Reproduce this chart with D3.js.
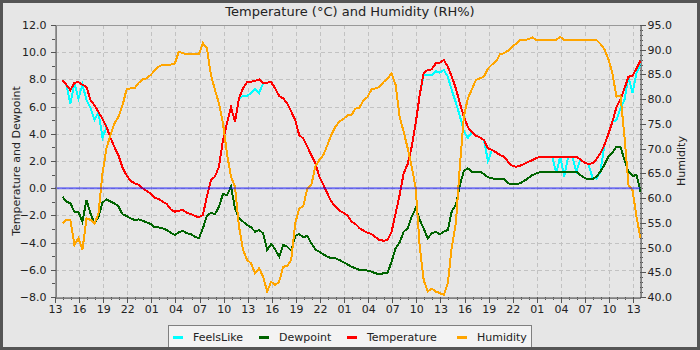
<!DOCTYPE html>
<html>
<head>
<meta charset="utf-8">
<script src="https://cdn.jsdelivr.net/npm/d3@7"></script>
<style>
  body { margin: 0; background: #e6e6e6; }
  svg { display: block; font-family: "DejaVu Sans", sans-serif; }
</style>
</head>
<body>
<svg id="chart" width="700" height="350"></svg>
<script>
// Readings: one sample every 30 minutes starting 13:55 on day one
const firstReading = new Date(2024, 0, 10, 13, 55);
const readingStepMinutes = 30;
const axisStart = new Date(2024, 0, 10, 13, 0);
const axisSpanMinutes = 4371;

const seriesNames = ["FeelsLike", "Dewpoint", "Temperature", "Humidity"];

const feelsLike = [
  7.95, 7.6, 6.2, 7.75, 6.6, 7.6, 6.5, 5.9, 5.0, 5.6,
  3.7, 4.5, 3.7, 3.0, 2.4, 1.5, 0.95, 0.55, 0.35, 0.25,
  0.0, -0.2, -0.4, -0.7, -0.8, -0.99, -1.16, -1.55, -1.73, -1.65,
  -1.6, -1.8, -1.9, -2.04, -2.14, -1.97, -0.62, 0.6, 0.85, 1.58,
  3.54, 4.77, 5.95, 4.9, 6.6, 6.8, 6.8, 7.0, 7.3, 7.0,
  7.71, 7.76, 7.8, 7.34, 6.78, 6.6, 6.24, 5.63, 5.0, 3.9,
  3.66, 3.05, 2.44, 1.83, 0.85, 0.24, -0.38, -0.99, -1.36, -1.65,
  -1.8, -2.0, -2.46, -2.63, -2.93, -3.12, -3.27, -3.37, -3.61, -3.81,
  -3.86, -3.81, -3.2, -1.85, -0.5, 1.09, 1.78, 3.05, 4.77, 6.85,
  8.3, 8.3, 8.3, 8.6, 8.5, 8.7, 8.2, 7.2, 6.3, 5.3,
  4.2, 3.7, 4.11, 3.86, 3.74, 3.54, 2.0, 2.81, 2.64, 2.44,
  2.32, 1.95, 1.66, 1.58, 1.66, 1.78, 1.93, 2.06, 2.2, 2.32,
  2.32, 2.32, 2.32, 1.1, 2.32, 0.85, 2.32, 2.32, 1.2, 2.12,
  1.9, 1.78, 0.8, 0.7, 1.2, 3.18, 3.99, 4.89, 5.0, 5.9,
  6.5, 8.2, 7.0, 8.5, 9.1
];

const dewpoint = [
  -0.62, -0.99, -1.11, -1.73, -1.73, -2.46, -0.87, -1.85, -2.58, -2.09,
  -1.06, -0.82, -0.99, -1.11, -1.36, -1.92, -2.04, -2.22, -2.34, -2.29,
  -2.39, -2.51, -2.63, -2.88, -2.88, -2.95, -3.07, -3.27, -3.44, -3.25,
  -3.12, -3.32, -3.37, -3.56, -3.69, -2.95, -2.04, -1.8, -1.92, -1.36,
  -0.43, -0.5, 0.11, -1.48, -2.22, -2.46, -2.7, -2.88, -3.2, -3.07,
  -3.32, -4.54, -4.1, -4.5, -5.03, -4.18, -4.3, -4.59, -3.51, -3.37,
  -3.61, -3.51, -4.05, -4.5, -4.67, -4.86, -5.03, -5.16, -5.16, -5.28,
  -5.45, -5.6, -5.77, -5.89, -6.01, -6.01, -6.06, -6.14, -6.26, -6.31,
  -6.26, -6.21, -5.4, -4.42, -4.0, -3.2, -2.95, -2.09, -1.48, -2.34,
  -2.95, -3.69, -3.32, -3.2, -3.4, -3.2, -3.07, -1.68, -1.24, 0.24,
  1.26, 1.46, 1.22, 1.22, 1.22, 1.04, 0.8, 0.73, 0.68, 0.68,
  0.65, 0.36, 0.28, 0.31, 0.36, 0.53, 0.73, 0.95, 1.09, 1.19,
  1.22, 1.22, 1.22, 1.22, 1.22, 1.22, 1.22, 1.22, 1.22, 0.97,
  0.77, 0.65, 0.65, 0.85, 1.22, 1.71, 2.32, 2.61, 3.05, 3.05,
  2.07, 1.22, 0.9, 0.97, -0.25
];

const temperature = [
  7.95, 7.6, 7.2, 7.75, 7.8, 7.6, 7.45, 6.5, 6.1, 5.6,
  5.1, 4.5, 3.7, 3.0, 2.4, 1.5, 0.95, 0.55, 0.35, 0.25,
  0.0, -0.2, -0.4, -0.7, -0.8, -0.99, -1.16, -1.55, -1.73, -1.65,
  -1.6, -1.8, -1.9, -2.04, -2.14, -1.97, -0.62, 0.6, 0.85, 1.58,
  3.54, 4.77, 5.95, 4.9, 6.6, 7.34, 7.8, 7.83, 7.9, 8.0,
  7.71, 7.76, 7.8, 7.34, 6.78, 6.6, 6.24, 5.63, 5.0, 3.9,
  3.66, 3.05, 2.44, 1.83, 0.85, 0.24, -0.38, -0.99, -1.36, -1.65,
  -1.8, -2.0, -2.46, -2.63, -2.93, -3.12, -3.27, -3.37, -3.61, -3.81,
  -3.86, -3.81, -3.2, -1.85, -0.5, 1.09, 1.78, 3.05, 4.77, 6.85,
  8.5, 8.69, 8.74, 9.18, 9.23, 9.43, 8.94, 8.2, 7.34, 6.24,
  5.26, 4.48, 4.11, 3.86, 3.74, 3.54, 2.93, 2.81, 2.64, 2.44,
  2.32, 1.95, 1.66, 1.58, 1.66, 1.78, 1.93, 2.06, 2.2, 2.32,
  2.32, 2.32, 2.32, 2.32, 2.32, 2.32, 2.32, 2.32, 2.32, 2.12,
  1.9, 1.78, 1.83, 2.12, 2.56, 3.18, 3.99, 4.89, 5.95, 6.53,
  7.34, 8.2, 8.25, 8.81, 9.38
];

const humidity = [
  54.9, 55.6, 55.6, 50.5, 51.9, 49.5, 55.9, 55.6, 54.8, 56.9,
  65.0, 70.1, 72.8, 75.1, 76.5, 78.8, 82.0, 82.2, 82.2, 83.3,
  84.0, 84.2, 84.9, 85.8, 86.6, 87.0, 87.0, 87.0, 87.2, 89.6,
  89.3, 89.1, 89.1, 89.1, 89.1, 91.3, 90.3, 84.9, 81.9, 79.2,
  75.1, 69.0, 64.3, 62.3, 54.2, 49.5, 47.5, 46.8, 44.8, 45.8,
  44.1, 41.1, 43.1, 42.4, 43.1, 46.1, 46.3, 47.5, 54.9, 57.9,
  58.3, 62.0, 62.6, 66.4, 67.7, 68.7, 70.7, 72.8, 74.4, 75.5,
  76.0, 76.7, 76.8, 78.1, 78.3, 79.8, 80.4, 82.0, 82.2, 82.5,
  83.5, 84.2, 85.2, 82.9, 76.5, 73.4, 70.1, 66.4, 62.0, 50.2,
  43.4, 41.1, 41.7, 41.1, 40.8, 40.4, 42.8, 50.2, 54.9, 66.4,
  76.5, 80.2, 82.0, 83.9, 84.2, 84.6, 86.2, 87.0, 87.6, 89.1,
  89.3, 89.8, 90.6, 91.2, 92.0, 92.0, 92.1, 92.5, 92.0, 92.0,
  92.0, 92.0, 92.0, 92.0, 92.6, 92.0, 92.0, 92.0, 92.0, 92.0,
  92.0, 92.0, 92.0, 92.0, 91.2, 90.1, 88.1, 85.2, 80.5, 80.8,
  72.4, 62.6, 61.6, 56.2, 51.9
];

const temperatureTicks = [-8, -6, -4, -2, 0, 2, 4, 6, 8, 10, 12];
const humidityTicks = [40, 45, 50, 55, 60, 65, 70, 75, 80, 85, 90, 95];

// ---- drawing ----
const W = 700, H = 350;
const plot = { left: 55, right: 640, top: 25, bottom: 297 };
const svg = d3.select("#chart");

svg.append("rect").attr("x", 0).attr("y", 0).attr("width", W).attr("height", H).attr("fill", "#e6e6e6");

const axisEnd = d3.timeMinute.offset(axisStart, axisSpanMinutes);
const x = d3.scaleTime().domain([axisStart, axisEnd]).range([plot.left, plot.right]);
const yT = d3.scaleLinear().domain([-8, 12]).range([plot.bottom, plot.top]);
const yH = d3.scaleLinear().domain([40, 95]).range([plot.bottom, plot.top]);

const hours = d3.timeHour.range(axisStart, d3.timeMinute.offset(axisEnd, 1));
const majorHours = hours.filter((d, i) => i % 3 === 0);

// grid
const grid = svg.append("g").attr("stroke", "#c2c2c2").attr("stroke-width", 1)
  .attr("stroke-dasharray", "4,3").attr("shape-rendering", "crispEdges");
grid.selectAll("line.v").data(majorHours.slice(1)).join("line")
  .attr("x1", d => Math.round(x(d)) + 0.5).attr("x2", d => Math.round(x(d)) + 0.5)
  .attr("y1", plot.top).attr("y2", plot.bottom);
grid.selectAll("line.h").data(temperatureTicks.slice(1, -1)).join("line")
  .attr("x1", plot.left).attr("x2", plot.right)
  .attr("y1", d => Math.round(yT(d)) + 0.5).attr("y2", d => Math.round(yT(d)) + 0.5);

// plot outline
svg.append("rect").attr("x", plot.left + 0.5).attr("y", plot.top + 0.5)
  .attr("width", plot.right - plot.left).attr("height", plot.bottom - plot.top)
  .attr("fill", "none").attr("stroke", "#999").attr("shape-rendering", "crispEdges");

// series
const times = temperature.map((_, i) => d3.timeMinute.offset(firstReading, i * readingStepMinutes));
svg.append("clipPath").attr("id", "plotClip").append("rect")
  .attr("x", plot.left).attr("y", plot.top)
  .attr("width", plot.right - plot.left + 1).attr("height", plot.bottom - plot.top);

const series = [
  { name: seriesNames[0], values: feelsLike, scale: yT, color: "#00ffff" },
  { name: seriesNames[1], values: dewpoint, scale: yT, color: "#006400" },
  { name: seriesNames[2], values: temperature, scale: yT, color: "#ff0000" },
  { name: seriesNames[3], values: humidity, scale: yH, color: "#ffa500" }
];

const lines = svg.append("g").attr("clip-path", "url(#plotClip)");
series.forEach(s => {
  const line = d3.line().x((d, i) => x(times[i])).y(d => s.scale(d));
  lines.append("path").datum(s.values).attr("d", line)
    .attr("fill", "none").attr("stroke", s.color).attr("stroke-width", 2)
    .attr("stroke-linejoin", "miter").attr("shape-rendering", "crispEdges");
});

// zero marker
svg.append("line").attr("x1", plot.left).attr("x2", plot.right)
  .attr("y1", yT(0)).attr("y2", yT(0))
  .attr("stroke", "rgba(0,0,255,0.5)").attr("stroke-width", 2);

// axes
const textColor = "#222";
function styleAxis(g) {
  g.selectAll(".domain").attr("stroke", "#808080").attr("shape-rendering", "crispEdges");
  g.selectAll(".tick line").attr("stroke", "#555").attr("shape-rendering", "crispEdges");
  g.selectAll(".tick text").attr("fill", textColor).style("font-size", "11px")
    .style("font-family", "'DejaVu Sans', sans-serif");
}

// minor ticks
const minor = svg.append("g").attr("stroke", "#555").attr("shape-rendering", "crispEdges");
minor.selectAll("line.mx").data(hours).join("line")
  .attr("x1", d => Math.round(x(d)) + 0.5).attr("x2", d => Math.round(x(d)) + 0.5)
  .attr("y1", plot.bottom).attr("y2", plot.bottom + 3);
minor.selectAll("line.my").data(d3.range(-8, 12.5, 1)).join("line")
  .attr("x1", plot.left - 3).attr("x2", plot.left)
  .attr("y1", d => Math.round(yT(d)) + 0.5).attr("y2", d => Math.round(yT(d)) + 0.5);
minor.selectAll("line.mh").data(d3.range(40, 95.5, 1)).join("line")
  .attr("x1", plot.right).attr("x2", plot.right + 3)
  .attr("y1", d => Math.round(yH(d)) + 0.5).attr("y2", d => Math.round(yH(d)) + 0.5);

const xAxis = svg.append("g").attr("transform", `translate(0,${plot.bottom + 0.5})`)
  .call(d3.axisBottom(x).tickValues(majorHours).tickFormat(d3.timeFormat("%H"))
    .tickSize(5).tickSizeOuter(0).tickPadding(3));
styleAxis(xAxis);

const yAxisL = svg.append("g").attr("transform", `translate(${plot.left + 0.5},0)`)
  .call(d3.axisLeft(yT).tickValues(temperatureTicks).tickFormat(d3.format(".1f"))
    .tickSize(5).tickSizeOuter(0).tickPadding(4));
styleAxis(yAxisL);

const yAxisR = svg.append("g").attr("transform", `translate(${plot.right + 0.5},0)`)
  .call(d3.axisRight(yH).tickValues(humidityTicks).tickFormat(d3.format(".1f"))
    .tickSize(5).tickSizeOuter(0).tickPadding(2));
styleAxis(yAxisR);

// title and axis labels
svg.append("text").attr("x", 350).attr("y", 16).attr("text-anchor", "middle")
  .attr("fill", textColor).style("font-size", "13px")
  .text("Temperature (°C) and Humidity (RH%)");
svg.append("text").attr("transform", `translate(20,${(plot.top + plot.bottom) / 2}) rotate(-90)`)
  .attr("text-anchor", "middle").attr("fill", textColor).style("font-size", "11px")
  .text("Temperature and Dewpoint");
svg.append("text").attr("transform", `translate(685,${(plot.top + plot.bottom) / 2}) rotate(-90)`)
  .attr("text-anchor", "middle").attr("fill", textColor).style("font-size", "11px")
  .text("Humidity");

// legend
const legend = svg.append("g");
legend.append("rect").attr("x", 168.5).attr("y", 325.5).attr("width", 363).attr("height", 22)
  .attr("fill", "#f3f3f3").attr("stroke", "#808080");
const legendX = [173, 259, 347, 457];
series.forEach((s, i) => {
  legend.append("rect").attr("x", legendX[i]).attr("y", 336).attr("width", 10).attr("height", 3)
    .attr("fill", s.color);
  legend.append("text").attr("x", legendX[i] + 20).attr("y", 341)
    .attr("fill", textColor).style("font-size", "11px").text(s.name);
});

// frame
svg.append("rect").attr("x", 1.5).attr("y", 1.5).attr("width", W - 3).attr("height", H - 3)
  .attr("fill", "none").attr("stroke", "#555").attr("stroke-width", 3);
</script>
</body>
</html>
